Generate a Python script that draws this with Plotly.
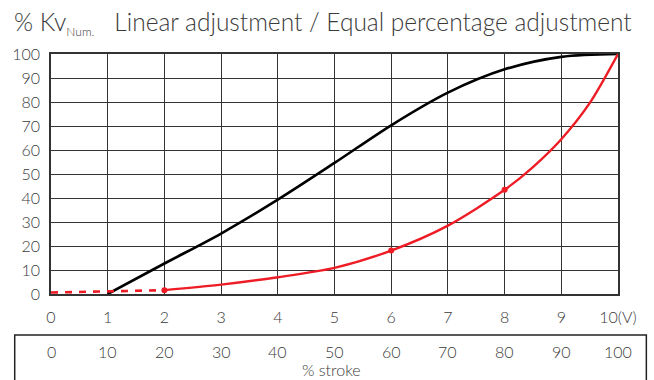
import plotly.graph_objects as go

# Control voltage (V) and flow coefficient (% Kv)
volts_linear = [1, 2, 3, 4, 5, 6, 7, 8, 9, 10]
kv_linear = [0, 12.7, 25.2, 39.3, 54.6, 70.3, 83.9, 93.6, 98.8, 100]

volts_eq_start = [0, 2]
kv_eq_start = [0.6, 1.6]

volts_eq = [2, 3, 4, 5, 6, 7, 8, 8.5, 9, 9.5, 10]
kv_eq = [1.6, 3.9, 7.0, 10.9, 18.1, 28.5, 43.4, 52.9, 64.5, 79.5, 100]

marker_volts = [2, 6, 8]
marker_kv = [1.6, 18.1, 43.4]

volt_ticks = [0, 1, 2, 3, 4, 5, 6, 7, 8, 9, 10]
volt_labels = ["0", "1", "2", "3", "4", "5", "6", "7", "8", "9", "10(V)"]
stroke_labels = ["0", "10", "20", "30", "40", "50", "60", "70", "80", "90", "100"]
kv_ticks = [0, 10, 20, 30, 40, 50, 60, 70, 80, 90, 100]

RED = "#ee1c25"
TEXT = "#3a3a3a"
FONT = "Lato Light, Lato"

fig = go.Figure()

fig.add_trace(go.Scatter(
    x=volts_linear, y=kv_linear, mode="lines",
    line=dict(color="black", width=2.6, shape="spline", smoothing=0.9),
    showlegend=False, hoverinfo="skip"))

fig.add_trace(go.Scatter(
    x=volts_eq_start, y=kv_eq_start, mode="lines",
    line=dict(color=RED, width=2.6, dash="7px,7px"),
    showlegend=False, hoverinfo="skip"))

fig.add_trace(go.Scatter(
    x=volts_eq, y=kv_eq, mode="lines",
    line=dict(color=RED, width=2.4, shape="spline", smoothing=0.8),
    showlegend=False, hoverinfo="skip"))

fig.add_trace(go.Scatter(
    x=marker_volts, y=marker_kv, mode="markers",
    marker=dict(color=RED, size=6),
    showlegend=False, hoverinfo="skip"))

# Stroke scale in the box below the voltage axis
for xv, lab in zip(volt_ticks, stroke_labels):
    fig.add_annotation(x=xv, y=-0.24, xref="x", yref="paper", text=lab,
                       showarrow=False, font=dict(family=FONT, size=16, color=TEXT),
                       xanchor="center", yanchor="middle")
fig.add_annotation(x=0.495, y=-0.315, xref="paper", yref="paper", text="% stroke",
                   showarrow=False, font=dict(family=FONT, size=16, color=TEXT),
                   xanchor="center", yanchor="middle")

fig.add_shape(type="rect", xref="paper", yref="paper",
              x0=-0.064, x1=1.05, y0=-0.171, y1=-0.5,
              line=dict(color="#222", width=1.5), fillcolor="rgba(0,0,0,0)")

# Heading
fig.add_annotation(x=-0.068, y=1.13, xref="paper", yref="paper",
                   text=("% Kv<sub><span style='font-size:12px'>Num.</span></sub>"
                         "   Linear adjustment / Equal percentage adjustment"),
                   showarrow=False, font=dict(family=FONT, size=24.5, color=TEXT),
                   xanchor="left", yanchor="middle")

fig.update_layout(
    width=654, height=380,
    margin=dict(l=51, r=36, t=54, b=85.5),
    paper_bgcolor="white", plot_bgcolor="white",
    font=dict(family=FONT, color=TEXT, size=16),
)

fig.update_xaxes(
    range=[0, 10], tickvals=volt_ticks, ticktext=volt_labels,
    showgrid=True, gridcolor="#333", gridwidth=1,
    showline=True, linecolor="#333", linewidth=1.5, mirror=True,
    zeroline=False, ticks="", ticklabelstandoff=8,
    tickfont=dict(family=FONT, size=16, color=TEXT))

fig.update_yaxes(
    range=[0, 100], tickvals=kv_ticks,
    showgrid=True, gridcolor="#333", gridwidth=1,
    showline=True, linecolor="#333", linewidth=1.5, mirror=True,
    zeroline=False, ticks="", ticklabelstandoff=6,
    tickfont=dict(family=FONT, size=16, color=TEXT))

fig.write_html("out.html")
